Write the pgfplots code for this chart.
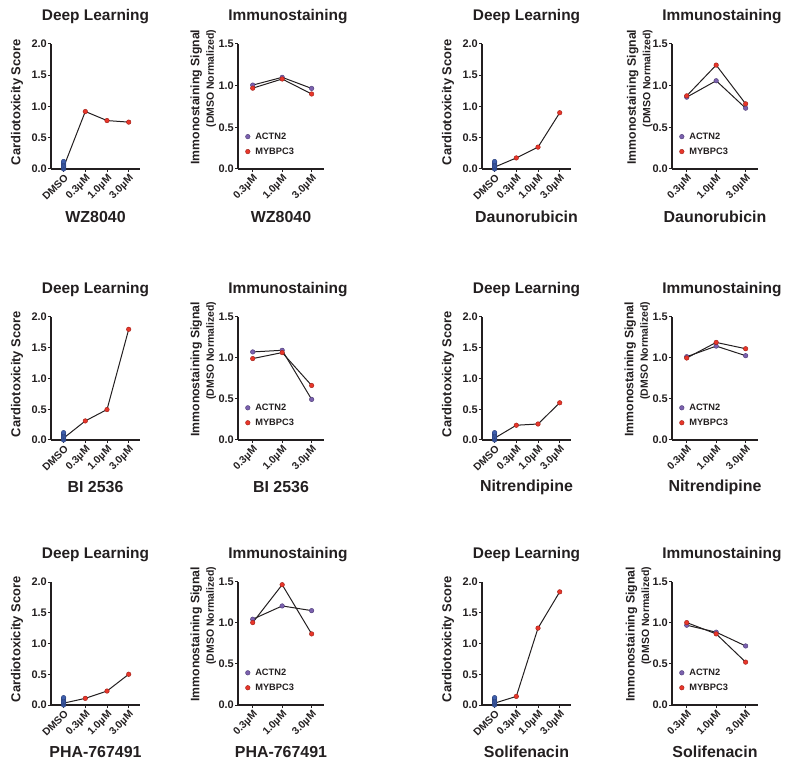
\documentclass[border=0pt]{standalone}
\usepackage{fontspec}
\setmainfont{Liberation Sans}
\usepackage{pgfplots}
\pgfplotsset{compat=1.18}

\definecolor{txt}{HTML}{231F20}
\definecolor{dmso}{HTML}{3E5FAD}
\definecolor{dmsoedge}{HTML}{2A3F7A}
\definecolor{redm}{HTML}{E8362A}
\definecolor{rededge}{HTML}{9E1F17}
\definecolor{purm}{HTML}{7B61AE}
\definecolor{puredge}{HTML}{4B3A75}

\pgfplotsset{
  base/.style={
    scale only axis, clip=false,
    axis lines=left, axis line style={-, line width=1.3bp, color=txt},
    tick align=outside, major tick length=3bp, tick style={line width=1bp, color=txt},
    ymin=0,
    yticklabel style={font=\fontsize{11}{12}\selectfont\bfseries, text=txt, inner sep=1bp},
    /pgf/number format/fixed, /pgf/number format/fixed zerofill, /pgf/number format/precision=1,
    /pgf/number format/assume math mode=true,
    xticklabel style={font=\fontsize{10.4}{12}\selectfont\bfseries, text=txt, rotate=45, anchor=north east, inner sep=1bp},
    every axis title/.style={at={(axis description cs:0.5,1.22)}, anchor=center, font=\fontsize{15.5}{17}\selectfont\bfseries, text=txt},
    every axis x label/.style={at={(axis description cs:0.5,-0.384)}, anchor=center, font=\fontsize{16}{18}\selectfont\bfseries, text=txt},
  },
  dl/.style={base, width=89bp, xmin=-0.58, xmax=3.52, ymax=2,
    ytick={0,0.5,1,1.5,2}, xtick={0,1,2,3}, xticklabels={DMSO,0.3µM,1.0µM,3.0µM},
    title={Deep Learning}, ylabel={Cardiotoxicity Score},
    every axis y label/.style={at={(axis description cs:-0.382,0.535)}, rotate=90, anchor=center, font=\fontsize{13}{15}\selectfont\bfseries, text=txt},
  },
  im/.style={base, width=86bp, xmin=-0.5, xmax=2.42, ymax=1.5,
    ytick={0,0.5,1,1.5}, xtick={0,1,2}, xticklabels={0.3µM,1.0µM,3.0µM},
    title={Immunostaining},
    every axis title/.append style={at={(axis description cs:0.58,1.22)}},
    ylabel={Immonostaining Signal\\[1.5bp]{\fontsize{10.5}{12}\selectfont (DMSO Normalized)}},
    every axis y label/.style={at={(axis description cs:#1,0.575)}, rotate=90, anchor=center, align=right, font=\fontsize{12.3}{13}\selectfont\bfseries, text=txt},
    legend style={draw=none, fill=none, font=\fontsize{9.3}{10}\selectfont\bfseries, text=txt,
      at={(axis description cs:0.085,0.09)}, anchor=south west, row sep=3bp, inner sep=0pt},
    legend cell align=left,
    legend image code/.code={\draw[##1] plot coordinates {(0bp,0bp)}; \path (5bp,0bp);},
  },
  line/.style={txt, line width=1bp},
  redpt/.style={only marks, mark=*, mark size=2.3bp, mark options={fill=redm, draw=rededge, line width=0.4bp}},
  dmsopt/.style={only marks, mark=*, mark size=2.3bp, mark options={fill=dmso, draw=dmsoedge, line width=0.4bp}},
  actn/.style={txt, line width=1bp, mark=*, mark size=2.3bp, mark options={fill=purm, draw=puredge, line width=0.4bp}},
  mybp/.style={txt, line width=1bp, mark=*, mark size=2.3bp, mark options={fill=redm, draw=rededge, line width=0.4bp}},
}

\begin{document}
\begin{tikzpicture}
\useasboundingbox (0,0) rectangle (792bp,770bp);

% ---------------- Row 1 ----------------
\begin{axis}[dl, at={(51bp,601bp)}, anchor=south west, height=125bp, xlabel={WZ8040}]
\addplot[line] coordinates {(0,0.03) (1,0.92) (2,0.775) (3,0.75)};
\addplot[redpt] coordinates {(1,0.92) (2,0.775) (3,0.75)};
\addplot[dmsopt] coordinates {(0,0.0) (0,0.02) (0,0.04) (0,0.06) (0,0.08) (0,0.10) (0,0.12)};
\end{axis}

\begin{axis}[im=-0.405, at={(238bp,601bp)}, anchor=south west, height=125bp, xlabel={WZ8040}]
\addplot[actn] coordinates {(0,1.007) (1,1.10) (2,0.967)};
\addlegendentry{ACTN2}
\addplot[mybp] coordinates {(0,0.97) (1,1.08) (2,0.90)};
\addlegendentry{MYBPC3}
\end{axis}

\begin{axis}[dl, at={(482bp,601bp)}, anchor=south west, height=125bp, xlabel={Daunorubicin}]
\addplot[line] coordinates {(0,0.03) (1,0.177) (2,0.35) (3,0.90)};
\addplot[redpt] coordinates {(1,0.177) (2,0.35) (3,0.90)};
\addplot[dmsopt] coordinates {(0,0.0) (0,0.02) (0,0.04) (0,0.06) (0,0.08) (0,0.10) (0,0.12)};
\end{axis}

\begin{axis}[im=-0.375, at={(672bp,601bp)}, anchor=south west, height=125bp, xlabel={Daunorubicin}]
\addplot[actn] coordinates {(0,0.862) (1,1.059) (2,0.73)};
\addlegendentry{ACTN2}
\addplot[mybp] coordinates {(0,0.878) (1,1.247) (2,0.782)};
\addlegendentry{MYBPC3}
\end{axis}

% ---------------- Row 2 ----------------
\begin{axis}[dl, at={(51bp,330bp)}, anchor=south west, height=123bp, xlabel={BI 2536}]
\addplot[line] coordinates {(0,0.03) (1,0.31) (2,0.495) (3,1.80)};
\addplot[redpt] coordinates {(1,0.31) (2,0.495) (3,1.80)};
\addplot[dmsopt] coordinates {(0,0.0) (0,0.02) (0,0.04) (0,0.06) (0,0.08) (0,0.10) (0,0.12)};
\end{axis}

\begin{axis}[im=-0.405, at={(238bp,330bp)}, anchor=south west, height=123bp, xlabel={BI 2536}]
\addplot[actn] coordinates {(0,1.074) (1,1.094) (2,0.495)};
\addlegendentry{ACTN2}
\addplot[mybp] coordinates {(0,0.993) (1,1.066) (2,0.665)};
\addlegendentry{MYBPC3}
\end{axis}

\begin{axis}[dl, at={(482bp,330bp)}, anchor=south west, height=123bp, xlabel={Nitrendipine}]
\addplot[line] coordinates {(0,0.03) (1,0.24) (2,0.26) (3,0.605)};
\addplot[redpt] coordinates {(1,0.24) (2,0.26) (3,0.605)};
\addplot[dmsopt] coordinates {(0,0.0) (0,0.02) (0,0.04) (0,0.06) (0,0.08) (0,0.10) (0,0.12)};
\end{axis}

\begin{axis}[im=-0.405, at={(672bp,330bp)}, anchor=south west, height=123bp, xlabel={Nitrendipine}]
\addplot[actn] coordinates {(0,1.016) (1,1.145) (2,1.028)};
\addlegendentry{ACTN2}
\addplot[mybp] coordinates {(0,1.0) (1,1.19) (2,1.113)};
\addlegendentry{MYBPC3}
\end{axis}

% ---------------- Row 3 ----------------
\begin{axis}[dl, at={(51bp,65bp)}, anchor=south west, height=123bp, xlabel={PHA-767491}]
\addplot[line] coordinates {(0,0.03) (1,0.108) (2,0.227) (3,0.50)};
\addplot[redpt] coordinates {(1,0.108) (2,0.227) (3,0.50)};
\addplot[dmsopt] coordinates {(0,0.0) (0,0.02) (0,0.04) (0,0.06) (0,0.08) (0,0.10) (0,0.12)};
\end{axis}

\begin{axis}[im=-0.405, at={(238bp,65bp)}, anchor=south west, height=123bp, xlabel={PHA-767491}]
\addplot[actn] coordinates {(0,1.046) (1,1.208) (2,1.151)};
\addlegendentry{ACTN2}
\addplot[mybp] coordinates {(0,1.005) (1,1.467) (2,0.867)};
\addlegendentry{MYBPC3}
\end{axis}

\begin{axis}[dl, at={(482bp,65bp)}, anchor=south west, height=123bp, xlabel={Solifenacin}]
\addplot[line] coordinates {(0,0.03) (1,0.14) (2,1.25) (3,1.84)};
\addplot[redpt] coordinates {(1,0.14) (2,1.25) (3,1.84)};
\addplot[dmsopt] coordinates {(0,0.0) (0,0.02) (0,0.04) (0,0.06) (0,0.08) (0,0.10) (0,0.12)};
\end{axis}

\begin{axis}[im=-0.39, at={(672bp,65bp)}, anchor=south west, height=123bp, xlabel={Solifenacin}]
\addplot[actn] coordinates {(0,0.973) (1,0.888) (2,0.72)};
\addlegendentry{ACTN2}
\addplot[mybp] coordinates {(0,1.005) (1,0.867) (2,0.523)};
\addlegendentry{MYBPC3}
\end{axis}

\end{tikzpicture}
\end{document}
